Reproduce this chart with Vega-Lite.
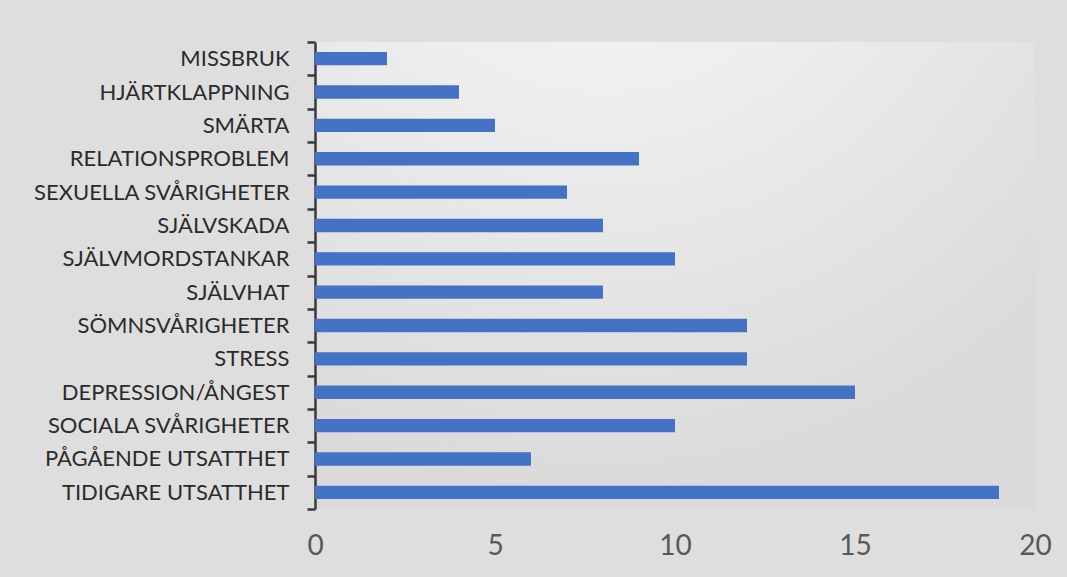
{
  "$schema": "https://vega.github.io/schema/vega-lite/v6.json",
  "autosize": "none",
  "width": 720,
  "height": 467,
  "padding": {"left": 315, "top": 42, "right": 32, "bottom": 68},
  "background": "#dedede",
  "config": {
    "view": {
      "stroke": null,
      "fill": {
        "gradient": "radial",
        "x1": 0.4, "y1": -0.1, "r1": 0,
        "x2": 0.4, "y2": -0.1, "r2": 0.9,
        "stops": [
          {"offset": 0, "color": "#fbfbfb"},
          {"offset": 1, "color": "#dadada"}
        ]
      }
    },
    "font": "Lato"
  },
  "data": {
    "values": [
      {"kategori": "MISSBRUK", "antal": 2},
      {"kategori": "HJÄRTKLAPPNING", "antal": 4},
      {"kategori": "SMÄRTA", "antal": 5},
      {"kategori": "RELATIONSPROBLEM", "antal": 9},
      {"kategori": "SEXUELLA SVÅRIGHETER", "antal": 7},
      {"kategori": "SJÄLVSKADA", "antal": 8},
      {"kategori": "SJÄLVMORDSTANKAR", "antal": 10},
      {"kategori": "SJÄLVHAT", "antal": 8},
      {"kategori": "SÖMNSVÅRIGHETER", "antal": 12},
      {"kategori": "STRESS", "antal": 12},
      {"kategori": "DEPRESSION/ÅNGEST", "antal": 15},
      {"kategori": "SOCIALA SVÅRIGHETER", "antal": 10},
      {"kategori": "PÅGÅENDE UTSATTHET", "antal": 6},
      {"kategori": "TIDIGARE UTSATTHET", "antal": 19}
    ]
  },
  "mark": {"type": "bar", "color": "#4472c4", "height": {"band": 0.4}},
  "encoding": {
    "y": {
      "field": "kategori",
      "type": "nominal",
      "sort": null,
      "title": null,
      "scale": {"paddingInner": 0, "paddingOuter": 0},
      "axis": {
        "tickBand": "extent",
        "tickSize": 8,
        "tickWidth": 2.5,
        "tickColor": "#3a3a3a",
        "domainColor": "#3a3a3a",
        "domainWidth": 2.5,
        "labelPadding": 18,
        "labelLimit": 0,
        "labelFontSize": 22,
        "labelColor": "#2b2b2b",
        "labelFont": "Lato"
      }
    },
    "x": {
      "field": "antal",
      "type": "quantitative",
      "title": null,
      "scale": {"domain": [0, 20]},
      "axis": {
        "values": [0, 5, 10, 15, 20],
        "grid": false,
        "domain": false,
        "ticks": false,
        "tickSize": 0,
        "labelFlush": false,
        "labelPadding": 23,
        "labelFontSize": 28,
        "labelColor": "#595959",
        "labelFont": "Lato"
      }
    }
  }
}
